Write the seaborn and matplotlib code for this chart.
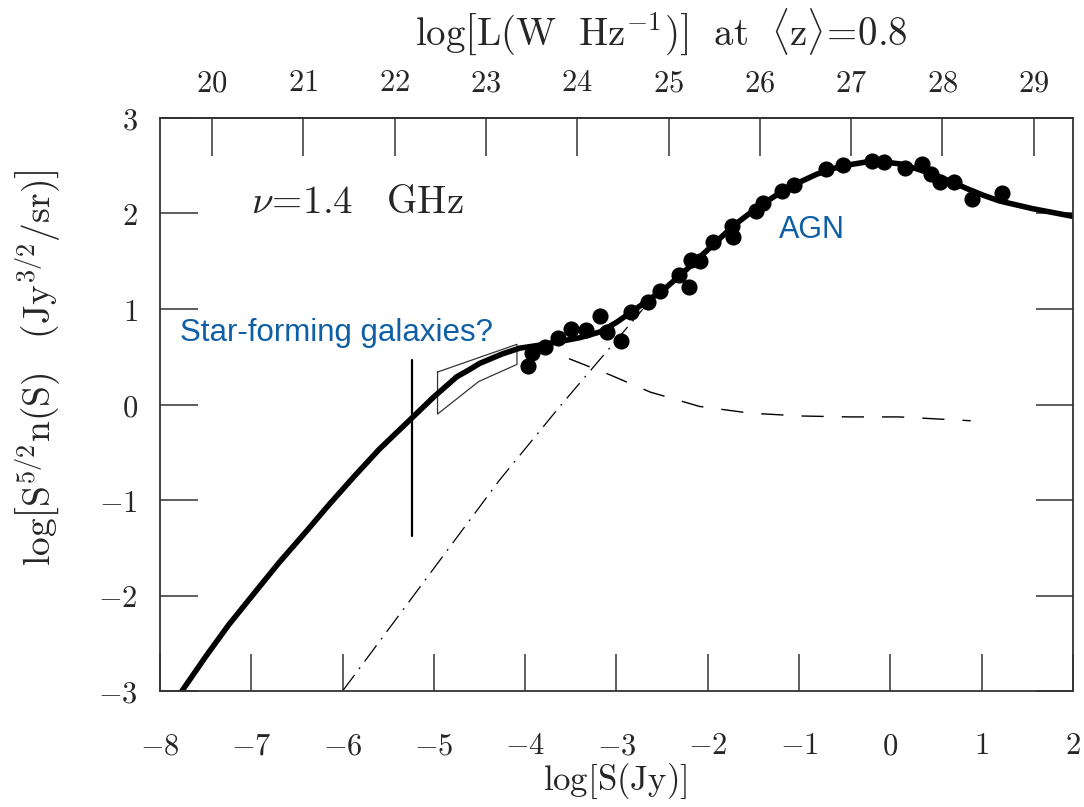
import matplotlib
matplotlib.use("Agg")
import matplotlib.pyplot as plt
import seaborn as sns
from matplotlib.ticker import FixedLocator, FixedFormatter

# ---------------- data ----------------
total_logS = [-7.76, -7.50, -7.25, -6.98, -6.70, -6.39, -6.15, -5.88, -5.60, -5.24,
              -5.00, -4.75, -4.62, -4.50, -4.25, -4.06, -3.85, -3.62, -3.40, -3.18,
              -3.00, -2.82, -2.64, -2.45, -2.27, -2.09, -1.90, -1.72, -1.53, -1.35,
              -1.17, -0.99, -0.81, -0.63, -0.45, -0.26, -0.08, 0.10, 0.28, 0.47,
              0.65, 0.84, 1.02, 1.20, 1.38, 1.56, 1.78, 2.00]
total_y = [-3.00, -2.64, -2.31, -1.99, -1.66, -1.32, -1.05, -0.76, -0.47, -0.14,
           0.08, 0.29, 0.36, 0.43, 0.53, 0.59, 0.62, 0.66, 0.70, 0.76,
           0.86, 0.98, 1.10, 1.23, 1.38, 1.54, 1.71, 1.87, 2.01, 2.13,
           2.24, 2.33, 2.41, 2.47, 2.51, 2.54, 2.54, 2.52, 2.47, 2.41,
           2.34, 2.26, 2.19, 2.13, 2.09, 2.05, 2.01, 1.97]

sf_logS = [-3.52, -3.07, -2.63, -2.09, -1.54, -0.99, -0.44, 0.10, 0.88]
sf_y = [0.48, 0.31, 0.13, -0.02, -0.09, -0.12, -0.13, -0.13, -0.17]

agn_logS = [-6.00, -4.28, -3.62, -3.04, -2.71]
agn_y = [-3.00, -0.79, -0.02, 0.63, 1.00]

box_logS = [-4.96, -4.09, -4.09, -4.51, -4.96, -4.96]
box_y = [0.34, 0.63, 0.42, 0.24, -0.10, 0.34]

cut_logS = [-5.24, -5.24]
cut_y = [-1.38, 0.47]

data_logS = [-3.97, -3.93, -3.78, -3.64, -3.50, -3.33, -3.18, -3.10, -2.95, -2.84,
             -2.66, -2.52, -2.31, -2.21, -2.18, -2.09, -1.94, -1.73, -1.72, -1.47,
             -1.39, -1.19, -1.06, -0.70, -0.52, -0.20, -0.07, 0.16, 0.35, 0.45,
             0.54, 0.70, 0.89, 1.22]
data_y = [0.40, 0.54, 0.60, 0.70, 0.79, 0.78, 0.93, 0.76, 0.66, 0.97,
          1.07, 1.19, 1.36, 1.23, 1.51, 1.50, 1.70, 1.87, 1.75, 2.03,
          2.11, 2.24, 2.30, 2.47, 2.51, 2.55, 2.54, 2.48, 2.52, 2.41,
          2.33, 2.33, 2.15, 2.21]

x_ticks = [-8, -7, -6, -5, -4, -3, -2, -1, 0, 1, 2]
x_ticklabels = [r"$-8$", r"$-7$", r"$-6$", r"$-5$", r"$-4$", r"$-3$", r"$-2$",
                r"$-1$", r"$0$", r"$1$", r"$2$"]
y_ticks = [-3, -2, -1, 0, 1, 2, 3]
y_ticklabels = [r"$-3$", r"$-2$", r"$-1$", r"$0$", r"$1$", r"$2$", r"$3$"]
top_ticks = [20, 21, 22, 23, 24, 25, 26, 27, 28, 29]
top_ticklabels = [r"$%d$" % t for t in top_ticks]
L_OFFSET = 27.43   # log L = log S + offset at <z>=0.8

BLUE = "#0f5fa6"

# ---------------- style ----------------
sns.set_style("ticks")
plt.rcParams["mathtext.fontset"] = "cm"
plt.rcParams["font.family"] = ["DejaVu Sans"]
plt.rcParams["axes.edgecolor"] = "#333333"
plt.rcParams["axes.linewidth"] = 1.3

fig = plt.figure(figsize=(10.84, 8.07), dpi=100)
ax = fig.add_axes([0.1476, 0.1437, 0.8422, 0.7101])

# model curves
sns.lineplot(x=agn_logS, y=agn_y, ax=ax, color="black", lw=0.9, sort=False,
             estimator=None, linestyle=(0, (16, 6, 1.5, 6)))
sns.lineplot(x=sf_logS, y=sf_y, ax=ax, color="black", lw=1.0, sort=False,
             estimator=None, linestyle=(0, (16, 13)))
sns.lineplot(x=box_logS, y=box_y, ax=ax, color="#333333", lw=0.9, sort=False,
             estimator=None)
sns.lineplot(x=cut_logS, y=cut_y, ax=ax, color="black", lw=1.6, sort=False,
             estimator=None)
sns.lineplot(x=total_logS, y=total_y, ax=ax, color="black", lw=4.0, sort=False,
             estimator=None, solid_capstyle="round", solid_joinstyle="round")
sns.scatterplot(x=data_logS, y=data_y, ax=ax, color="black", s=135,
                edgecolor="black", linewidth=0, zorder=5)

ax.set_xlim(-8, 2)
ax.set_ylim(-3, 3)

ax.xaxis.set_major_locator(FixedLocator(x_ticks))
ax.xaxis.set_major_formatter(FixedFormatter(x_ticklabels))
ax.yaxis.set_major_locator(FixedLocator(y_ticks))
ax.yaxis.set_major_formatter(FixedFormatter(y_ticklabels))
ax.tick_params(axis="both", which="major", direction="in", length=27, width=1.1,
               color="#333333", labelsize=22)
ax.tick_params(axis="x", top=False, bottom=True, pad=29)
ax.tick_params(axis="y", left=True, right=True, labelright=False, pad=16)
ax.minorticks_off()

# top luminosity axis
sec = ax.secondary_xaxis("top", functions=(lambda s: s + L_OFFSET,
                                           lambda l: l - L_OFFSET))
sec.xaxis.set_major_locator(FixedLocator(top_ticks))
sec.xaxis.set_major_formatter(FixedFormatter(top_ticklabels))
sec.tick_params(direction="in", length=27, width=1.1, color="#333333",
                labelsize=22, pad=15)
sec.minorticks_off()
sec.spines["top"].set_linewidth(1.3)
sec.spines["top"].set_color("#333333")
sec.set_xlabel(r"$\log\!\left[\mathrm{L(W\ \ Hz^{-1})}\right]\ \ \mathrm{at}\ \ \langle\mathrm{z}\rangle\!=\!0.8$",
               fontsize=28, labelpad=17)
sec.xaxis.label.set_x(0.549)

ax.set_xlabel(r"$\log\!\left[\mathrm{S(Jy)}\right]$", fontsize=25)
ax.xaxis.set_label_coords(0.498, -0.122)
ax.set_ylabel(r"$\log\!\left[\mathrm{S^{5/2}n(S)}\ \ \ (\mathrm{Jy^{3/2}/sr})\right]$",
              fontsize=27)
ax.yaxis.set_label_coords(-0.107, 0.564)

# annotations
ax.text(-7.0, 2.12, r"$\nu\!=\!1.4\ \ \ \mathrm{GHz}$", fontsize=28,
        ha="left", va="center")
ax.text(-7.78, 0.75, "Star-forming galaxies?", color=BLUE, fontsize=22.5,
        family=["Liberation Sans", "DejaVu Sans"], ha="left", va="center")
ax.text(-1.22, 1.83, "AGN", color=BLUE, fontsize=22,
        family=["Liberation Sans", "DejaVu Sans"], ha="left", va="center")

fig.savefig("out.png", dpi=100)
